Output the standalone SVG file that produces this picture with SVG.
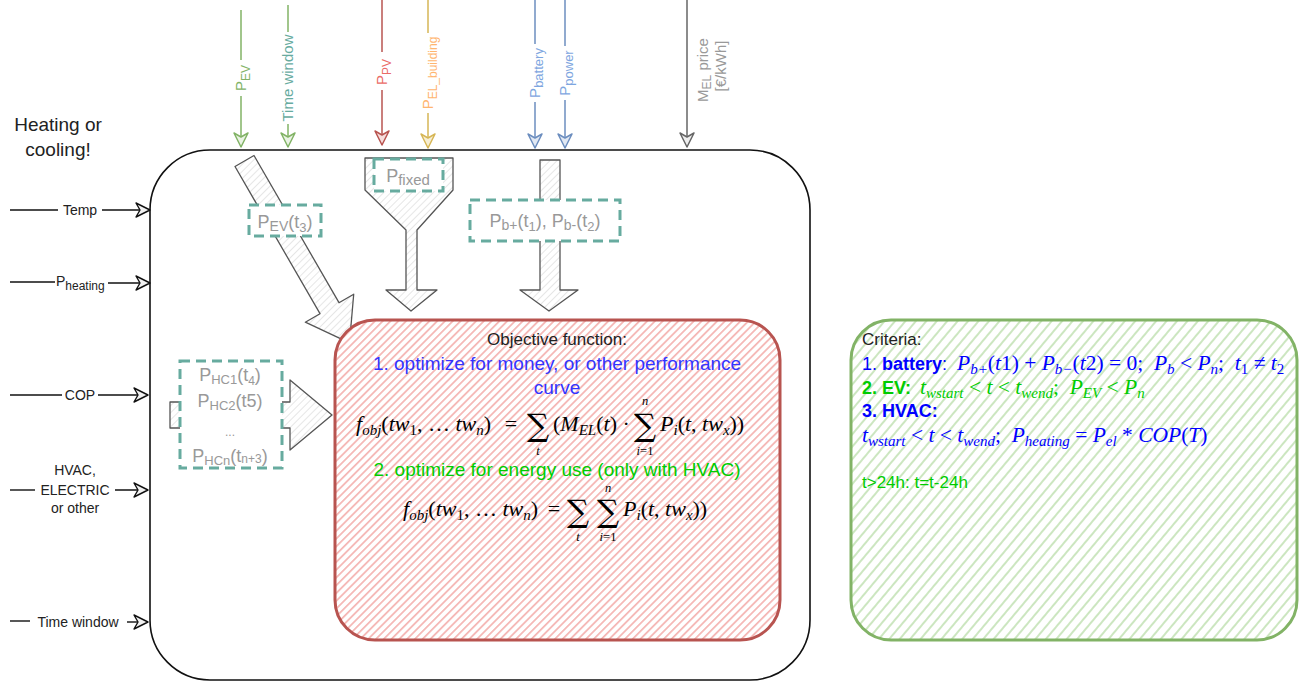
<svg xmlns="http://www.w3.org/2000/svg" width="1299" height="682" viewBox="0 0 1299 682">
<style>
.h{font-family:"Liberation Sans",Arial,sans-serif}
.m{font-family:"Liberation Serif","Times New Roman",serif;font-size:22px}
.i{font-style:italic}
.s{font-size:15px}
.lim{font-family:"Liberation Serif","Times New Roman",serif;font-size:12.5px}
.big{font-family:"DejaVu Serif",serif;font-size:31px}
.dash{fill:#fff;stroke:#67ab9f;stroke-width:3;stroke-dasharray:10 6}
.blk{fill:url(#hGray);stroke:#555;stroke-width:1.3;stroke-linejoin:round}
.gt{fill:#999;font-size:18px}
.c{font-size:21.5px}
</style>
<defs>
<pattern id="hRed" patternUnits="userSpaceOnUse" width="5.5" height="5.5" patternTransform="rotate(45)">
<rect width="5.5" height="5.5" fill="#fff"/><line x1="2.7" y1="0" x2="2.7" y2="5.5" stroke="#f4b0ad" stroke-width="1.6"/></pattern>
<pattern id="hGreen" patternUnits="userSpaceOnUse" width="8" height="8" patternTransform="rotate(40)">
<rect width="8" height="8" fill="#fff"/><line x1="4" y1="0" x2="4" y2="8" stroke="#bfe0b0" stroke-width="1.6"/></pattern>
<pattern id="hGray" patternUnits="userSpaceOnUse" width="5" height="5" patternTransform="rotate(45)">
<rect width="5" height="5" fill="#fff"/><line x1="2.5" y1="0" x2="2.5" y2="5" stroke="#e6e6e6" stroke-width="1"/></pattern>
<marker id="mG" viewBox="-16 -9 18 18" refX="0" refY="0" markerWidth="18" markerHeight="18" markerUnits="userSpaceOnUse" orient="auto"><path d="M0,0 L-14,-7 L-10,0 L-14,7 Z" fill="#eaf3e4" stroke="#82b366" stroke-width="1.5" stroke-linejoin="round"/></marker>
<marker id="mR" viewBox="-16 -9 18 18" refX="0" refY="0" markerWidth="18" markerHeight="18" markerUnits="userSpaceOnUse" orient="auto"><path d="M0,0 L-14,-7 L-10,0 L-14,7 Z" fill="#f6dddc" stroke="#b85450" stroke-width="1.5" stroke-linejoin="round"/></marker>
<marker id="mY" viewBox="-16 -9 18 18" refX="0" refY="0" markerWidth="18" markerHeight="18" markerUnits="userSpaceOnUse" orient="auto"><path d="M0,0 L-14,-7 L-10,0 L-14,7 Z" fill="#f7eed3" stroke="#d6b656" stroke-width="1.5" stroke-linejoin="round"/></marker>
<marker id="mB" viewBox="-16 -9 18 18" refX="0" refY="0" markerWidth="18" markerHeight="18" markerUnits="userSpaceOnUse" orient="auto"><path d="M0,0 L-14,-7 L-10,0 L-14,7 Z" fill="#e1e8f3" stroke="#6c8ebf" stroke-width="1.5" stroke-linejoin="round"/></marker>
<marker id="mD" viewBox="-16 -9 18 18" refX="0" refY="0" markerWidth="18" markerHeight="18" markerUnits="userSpaceOnUse" orient="auto"><path d="M0,0 L-14,-7 L-10,0 L-14,7 Z" fill="#eee" stroke="#666" stroke-width="1.5" stroke-linejoin="round"/></marker>
<marker id="mK" viewBox="-16 -9 18 18" refX="0" refY="0" markerWidth="18" markerHeight="18" markerUnits="userSpaceOnUse" orient="auto"><path d="M0,0 L-14,-7 L-10,0 L-14,7 Z" fill="#f2f2f2" stroke="#111" stroke-width="1.4" stroke-linejoin="round"/></marker>
</defs>
<rect width="1299" height="682" fill="#fff"/>

<g id="system-box">
<rect x="150" y="150" width="660" height="530" rx="60" fill="none" stroke="#111" stroke-width="1.6"/>
</g>

<g id="connectors" fill="none" stroke-width="1.5">
<g stroke="#82b366">
<path d="M241,10 V60"/><path d="M241,96 V147" marker-end="url(#mG)"/>
<path d="M288,5 V32"/><path d="M288,124 V147" marker-end="url(#mG)"/>
</g>
<g stroke="#b85450"><path d="M382,0 V52"/><path d="M382,90 V145" marker-end="url(#mR)"/></g>
<g stroke="#d6b656"><path d="M428,0 V33"/><path d="M428,113 V148" marker-end="url(#mY)"/></g>
<g stroke="#6c8ebf">
<path d="M535,0 V44"/><path d="M535,102 V148" marker-end="url(#mB)"/>
<path d="M565,0 V46"/><path d="M565,100 V148" marker-end="url(#mB)"/>
</g>
<g stroke="#666"><path d="M687,0 V147" marker-end="url(#mD)"/></g>
<g stroke="#111" stroke-width="1.4">
<path d="M10,210 H58"/><path d="M102,210 H150" marker-end="url(#mK)"/>
<path d="M10,282 H55"/><path d="M108,283 H150" marker-end="url(#mK)"/>
<path d="M10,395 H62"/><path d="M98,395 H148" marker-end="url(#mK)"/>
<path d="M10,490 H35"/><path d="M115,490 H148" marker-end="url(#mK)"/>
<path d="M10,621 H30"/><path d="M127,622 H148" marker-end="url(#mK)"/>
</g>
</g>

<g id="input-labels" class="h">
<text transform="translate(246,78) rotate(-90)" text-anchor="middle" fill="#82b366" font-size="15">P<tspan font-size="12" dy="4">EV</tspan></text>
<text transform="translate(293,78) rotate(-90)" text-anchor="middle" fill="#67ab9f" font-size="15">Time window</text>
<text transform="translate(387,72) rotate(-90)" text-anchor="middle" fill="#ea6b66" font-size="15">P<tspan font-size="12" dy="4">PV</tspan></text>
<text transform="translate(433,73) rotate(-90)" text-anchor="middle" fill="#ffb570" font-size="15">P<tspan font-size="12" dy="4">EL_building</tspan></text>
<text transform="translate(540,73) rotate(-90)" text-anchor="middle" fill="#7ea6e0" font-size="15">P<tspan font-size="13" dy="3">battery</tspan></text>
<text transform="translate(570,73) rotate(-90)" text-anchor="middle" fill="#7ea6e0" font-size="15">P<tspan font-size="13" dy="3">power</tspan></text>
<text transform="translate(708,70) rotate(-90)" text-anchor="middle" fill="#999" font-size="15">M<tspan font-size="12" dy="3">EL</tspan><tspan dy="-3"> price</tspan></text>
<text transform="translate(726,66) rotate(-90)" text-anchor="middle" fill="#999" font-size="15">[€/kWh]</text>

<text x="58" y="131" text-anchor="middle" fill="#222" font-size="19">Heating or</text>
<text x="58" y="156" text-anchor="middle" fill="#222" font-size="19">cooling!</text>
<text x="80" y="215" text-anchor="middle" fill="#222" font-size="14">Temp</text>
<text x="56" y="286" fill="#222" font-size="14">P<tspan font-size="12" dy="4">heating</tspan></text>
<text x="80" y="400" text-anchor="middle" fill="#222" font-size="14">COP</text>
<text x="75" y="475" text-anchor="middle" fill="#222" font-size="14">HVAC,</text>
<text x="75" y="495" text-anchor="middle" fill="#222" font-size="14">ELECTRIC</text>
<text x="75" y="513" text-anchor="middle" fill="#222" font-size="14">or other</text>
<text x="78" y="627" text-anchor="middle" fill="#222" font-size="14">Time window</text>
</g>

<g id="ev-arrow">
<polygon class="blk" points="254,155.5 339,302.7 353.7,294.2 349.5,342.8 305.3,322.2 320,313.7 235,166.5"/>
<rect class="dash" x="249" y="205" width="72" height="31"/>
<text class="h gt" x="285" y="228" text-anchor="middle">P<tspan font-size="14" dy="3">EV</tspan><tspan dy="-3">(t</tspan><tspan font-size="13" dy="4">3</tspan><tspan dy="-4">)</tspan></text>
</g>

<g id="fixed-funnel">
<polygon class="blk" points="365,158 453,158 453,190 417,230 417,290 437,290 411,311 386,290 406,290 406,230 365,190"/>
<rect class="dash" x="374" y="159" width="69" height="32"/>
<text class="h gt" x="408" y="182" text-anchor="middle">P<tspan font-size="15" dy="3">fixed</tspan></text>
</g>

<g id="battery-arrow">
<polygon class="blk" points="540,160 560,160 560,290 578,290 549,311 520,290 540,290"/>
<rect class="dash" x="470" y="200" width="150" height="41"/>
<text class="h gt" x="545" y="227" text-anchor="middle">P<tspan font-size="14" dy="3">b+</tspan><tspan dy="-3">(t</tspan><tspan font-size="13" dy="4">1</tspan><tspan dy="-4">), P</tspan><tspan font-size="14" dy="3">b-</tspan><tspan dy="-3">(t</tspan><tspan font-size="13" dy="4">2</tspan><tspan dy="-4">)</tspan></text>
</g>

<g id="hc-arrow">
<polygon class="blk" points="170,402 290,402 290,380 332,415 290,450 290,428 170,428"/>
<rect class="dash" x="180" y="361" width="102" height="107"/>
<g class="h gt" font-size="16" text-anchor="middle">
<text x="230" y="381">P<tspan font-size="13" dy="3">HC1</tspan><tspan dy="-3">(t</tspan><tspan font-size="12" dy="4">4</tspan><tspan dy="-4">)</tspan></text>
<text x="230" y="407">P<tspan font-size="13" dy="3">HC2</tspan><tspan dy="-3">(t5)</tspan></text>
<text x="230" y="436" font-size="12">...</text>
<text x="230" y="462">P<tspan font-size="13" dy="3">HCn</tspan><tspan dy="-3">(t</tspan><tspan font-size="12" dy="1">n+3</tspan><tspan dy="-1">)</tspan></text>
</g>
</g>

<g id="objective">
<rect x="335" y="320" width="445" height="320" rx="40" fill="url(#hRed)" stroke="#b85450" stroke-width="3"/>
<text class="h" x="557" y="345" text-anchor="middle" font-size="17" fill="#222">Objective function:</text>
<text class="h" x="557" y="370" text-anchor="middle" font-size="19" fill="#3333ff">1. optimize for money, or other performance</text>
<text class="h" x="557" y="394" text-anchor="middle" font-size="19" fill="#3333ff">curve</text>
<text class="m" x="356" y="431"><tspan class="i">f</tspan><tspan class="i s" dy="4">obj</tspan><tspan dy="-4">(</tspan><tspan class="i">tw</tspan><tspan class="s" dy="4">1</tspan><tspan dy="-4">,&#160;…&#160;</tspan><tspan class="i">tw</tspan><tspan class="i s" dy="4">n</tspan><tspan dy="-4">)</tspan></text>
<text class="m" x="511" y="431" text-anchor="middle">=</text>
<text class="big" x="538" y="436" text-anchor="middle">∑</text>
<text class="lim i" x="538" y="455" text-anchor="middle">t</text>
<text class="m" x="553" y="431">(<tspan class="i">M</tspan><tspan class="i s" dy="4">EL</tspan><tspan dy="-4">(</tspan><tspan class="i">t</tspan>) ·</text>
<text class="big" x="645" y="436" text-anchor="middle">∑</text>
<text class="lim i" x="645" y="405" text-anchor="middle">n</text>
<text class="lim" x="645" y="455" text-anchor="middle"><tspan class="i">i</tspan>=1</text>
<text class="m" x="660" y="431"><tspan class="i">P</tspan><tspan class="i s" dy="4">i</tspan><tspan dy="-4">(</tspan><tspan class="i">t</tspan>, <tspan class="i">tw</tspan><tspan class="i s" dy="4">x</tspan><tspan dy="-4">))</tspan></text>
<text class="h" x="557" y="476" text-anchor="middle" font-size="19" fill="#00cc00">2. optimize for energy use (only with HVAC)</text>
<text class="m" x="403" y="516"><tspan class="i">f</tspan><tspan class="i s" dy="4">obj</tspan><tspan dy="-4">(</tspan><tspan class="i">tw</tspan><tspan class="s" dy="4">1</tspan><tspan dy="-4">,&#160;…&#160;</tspan><tspan class="i">tw</tspan><tspan class="i s" dy="4">n</tspan><tspan dy="-4">)</tspan></text>
<text class="m" x="554" y="516" text-anchor="middle">=</text>
<text class="big" x="578" y="522" text-anchor="middle">∑</text>
<text class="lim i" x="578" y="541" text-anchor="middle">t</text>
<text class="big" x="608" y="522" text-anchor="middle">∑</text>
<text class="lim i" x="608" y="492" text-anchor="middle">n</text>
<text class="lim" x="608" y="541" text-anchor="middle"><tspan class="i">i</tspan>=1</text>
<text class="m" x="623" y="516"><tspan class="i">P</tspan><tspan class="i s" dy="4">i</tspan><tspan dy="-4">(</tspan><tspan class="i">t</tspan>, <tspan class="i">tw</tspan><tspan class="i s" dy="4">x</tspan><tspan dy="-4">))</tspan></text>
</g>

<g id="criteria">
<rect x="851" y="320" width="446" height="320" rx="40" fill="url(#hGreen)" stroke="#82b366" stroke-width="3"/>
<text class="h" x="862" y="345" font-size="17" fill="#222">Criteria:</text>
<text class="h" x="862" y="370" font-size="18" fill="#0000ff">1. <tspan font-weight="bold">battery</tspan>:</text>
<text class="m c" x="957" y="370" fill="#0000ff"><tspan class="i">P</tspan><tspan class="i s" dy="4">b+</tspan><tspan dy="-4">(</tspan><tspan class="i">t</tspan>1) + <tspan class="i">P</tspan><tspan class="i s" dy="4">b−</tspan><tspan dy="-4">(</tspan><tspan class="i">t</tspan>2) = 0;&#160; <tspan class="i">P</tspan><tspan class="i s" dy="4">b</tspan><tspan dy="-4"> &lt; </tspan><tspan class="i">P</tspan><tspan class="i s" dy="4">n</tspan><tspan dy="-4">;&#160; </tspan><tspan class="i">t</tspan><tspan class="s" dy="4">1</tspan><tspan dy="-4"> ≠ </tspan><tspan class="i">t</tspan><tspan class="s" dy="4">2</tspan></text>
<text class="h" x="862" y="394" font-size="18" fill="#00cc00" font-weight="bold">2. EV:</text>
<text class="m c" x="920" y="394" fill="#00cc00"><tspan class="i">t</tspan><tspan class="i s" dy="4">wstart</tspan><tspan dy="-4"> &lt; </tspan><tspan class="i">t</tspan> &lt; <tspan class="i">t</tspan><tspan class="i s" dy="4">wend</tspan><tspan dy="-4">;&#160; </tspan><tspan class="i">P</tspan><tspan class="i s" dy="4">EV</tspan><tspan dy="-4"> &lt; </tspan><tspan class="i">P</tspan><tspan class="i s" dy="4">n</tspan></text>
<text class="h" x="862" y="417" font-size="18" fill="#0000ff" font-weight="bold">3. HVAC:</text>
<text class="m c" x="862" y="442" fill="#0000ff"><tspan class="i">t</tspan><tspan class="i s" dy="4">wstart</tspan><tspan dy="-4"> &lt; </tspan><tspan class="i">t</tspan> &lt; <tspan class="i">t</tspan><tspan class="i s" dy="4">wend</tspan><tspan dy="-4">;&#160; </tspan><tspan class="i">P</tspan><tspan class="i s" dy="4">heating</tspan><tspan dy="-4"> = </tspan><tspan class="i">P</tspan><tspan class="i s" dy="4">el</tspan><tspan dy="-4"> * </tspan><tspan class="i">COP</tspan>(<tspan class="i">T</tspan>)</text>
<text class="h" x="862" y="488" font-size="17" fill="#00cc00">t&gt;24h: t=t-24h</text>
</g>
</svg>
